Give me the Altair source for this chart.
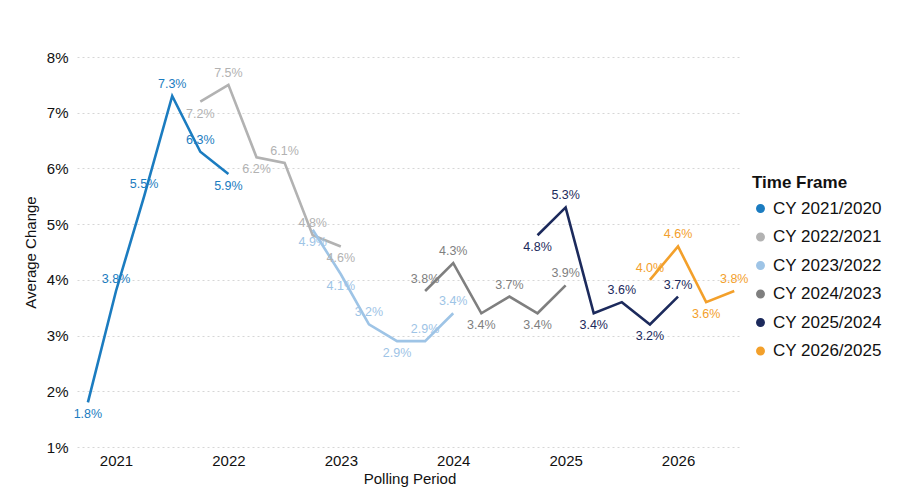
import altair as alt
import pandas as pd

# ---- data ----
series_names = ["CY 2021/2020", "CY 2022/2021", "CY 2023/2022",
                "CY 2024/2023", "CY 2025/2024", "CY 2026/2025"]

# polling period as fractional year (quarter steps)
a_period = [2020.75, 2021.0, 2021.25, 2021.5, 2021.75, 2022.0]
a_value = [1.8, 3.8, 5.5, 7.3, 6.3, 5.9]

b_period = [2021.75, 2022.0, 2022.25, 2022.5, 2022.75, 2023.0]
b_value = [7.2, 7.5, 6.2, 6.1, 4.8, 4.6]

c_period = [2022.75, 2023.0, 2023.25, 2023.5, 2023.75, 2024.0]
c_value = [4.9, 4.1, 3.2, 2.9, 2.9, 3.4]

d_period = [2023.75, 2024.0, 2024.25, 2024.5, 2024.75, 2025.0]
d_value = [3.8, 4.3, 3.4, 3.7, 3.4, 3.9]

e_period = [2024.75, 2025.0, 2025.25, 2025.5, 2025.75, 2026.0]
e_value = [4.8, 5.3, 3.4, 3.6, 3.2, 3.7]

f_period = [2025.75, 2026.0, 2026.25, 2026.5]
f_value = [4.0, 4.6, 3.6, 3.8]

year_ticks = [2021, 2022, 2023, 2024, 2025, 2026]
pct_ticks = [1, 2, 3, 4, 5, 6, 7, 8]

# ---- label side (styling): "a" above, "b" below ----
a_side = ["b", "a", "a", "a", "a", "b"]
b_side = ["b", "a", "b", "a", "a", "b"]
c_side = ["b", "b", "a", "b", "a", "a"]
d_side = ["a", "a", "b", "a", "b", "a"]
e_side = ["b", "a", "b", "a", "b", "a"]
f_side = ["a", "a", "b", "a"]

colors = ["#1b7cc0", "#b2b2b2", "#9ec4e6", "#7f7f7f", "#1c2a5c", "#f3a02b"]

rows = []
for name, per, val, side in zip(
        series_names,
        [a_period, b_period, c_period, d_period, e_period, f_period],
        [a_value, b_value, c_value, d_value, e_value, f_value],
        [a_side, b_side, c_side, d_side, e_side, f_side]):
    for p, v, s in zip(per, val, side):
        rows.append({"series": name, "period": p, "value": v,
                     "side": s, "label": f"{v:.1f}%"})
df = pd.DataFrame(rows)

FONT = "Liberation Sans"

x_enc = alt.X("period:Q",
              scale=alt.Scale(domain=[2020.653, 2026.569], nice=False, zero=False),
              axis=alt.Axis(values=year_ticks, format="d", title="Polling Period",
                            grid=False, domain=False, ticks=False,
                            labelFontSize=15, labelPadding=6, labelColor="#111",
                            titleFontSize=15, titleFontWeight="normal",
                            titleColor="#111", titlePadding=3, labelFont=FONT,
                            titleFont=FONT))
y_enc = alt.Y("value:Q",
              scale=alt.Scale(domain=[1, 8], nice=False, zero=False),
              axis=alt.Axis(values=pct_ticks, labelExpr="datum.value + '%'",
                            title="Average Change", grid=True,
                            gridDash=[2, 3], gridColor="#d6d6d6", gridWidth=1,
                            domain=False, ticks=False, labelPadding=9,
                            labelFontSize=15, labelColor="#111",
                            titleFontSize=15, titleFontWeight="normal",
                            titleColor="#111", titlePadding=8, labelFont=FONT,
                            titleFont=FONT))
color_enc = alt.Color("series:N",
                      scale=alt.Scale(domain=series_names, range=colors),
                      legend=alt.Legend(title="Time Frame", orient="none",
                                        legendX=675, legendY=118,
                                        symbolType="circle", symbolSize=55,
                                        labelFontSize=17, titleFontSize=17,
                                        titleFontWeight="bold", labelFont=FONT,
                                        titleFont=FONT, labelColor="#111",
                                        titleColor="#111", rowPadding=10.5,
                                        titlePadding=8, labelOffset=4))

base = alt.Chart(df)

lines = base.mark_line(strokeWidth=2.6).encode(
    x=x_enc, y=y_enc, color=color_enc, detail="series:N")

text_above = base.transform_filter(alt.datum.side == "a").mark_text(
    dy=-12, fontSize=12.5, font=FONT).encode(
    x="period:Q", y="value:Q", text="label:N",
    color=alt.Color("series:N", scale=alt.Scale(domain=series_names, range=colors),
                    legend=None))
text_below = base.transform_filter(alt.datum.side == "b").mark_text(
    dy=12, fontSize=12.5, font=FONT).encode(
    x="period:Q", y="value:Q", text="label:N",
    color=alt.Color("series:N", scale=alt.Scale(domain=series_names, range=colors),
                    legend=None))

chart = alt.layer(lines, text_above, text_below).properties(
    width=665, height=390,
    autosize=alt.AutoSizeParams(type="none"),
    padding={"left": 69, "top": 49, "right": 148, "bottom": 40},
    background="white",
).configure_view(stroke=None)

chart.save("out.html", embed_options={"renderer": "svg", "actions": False})
